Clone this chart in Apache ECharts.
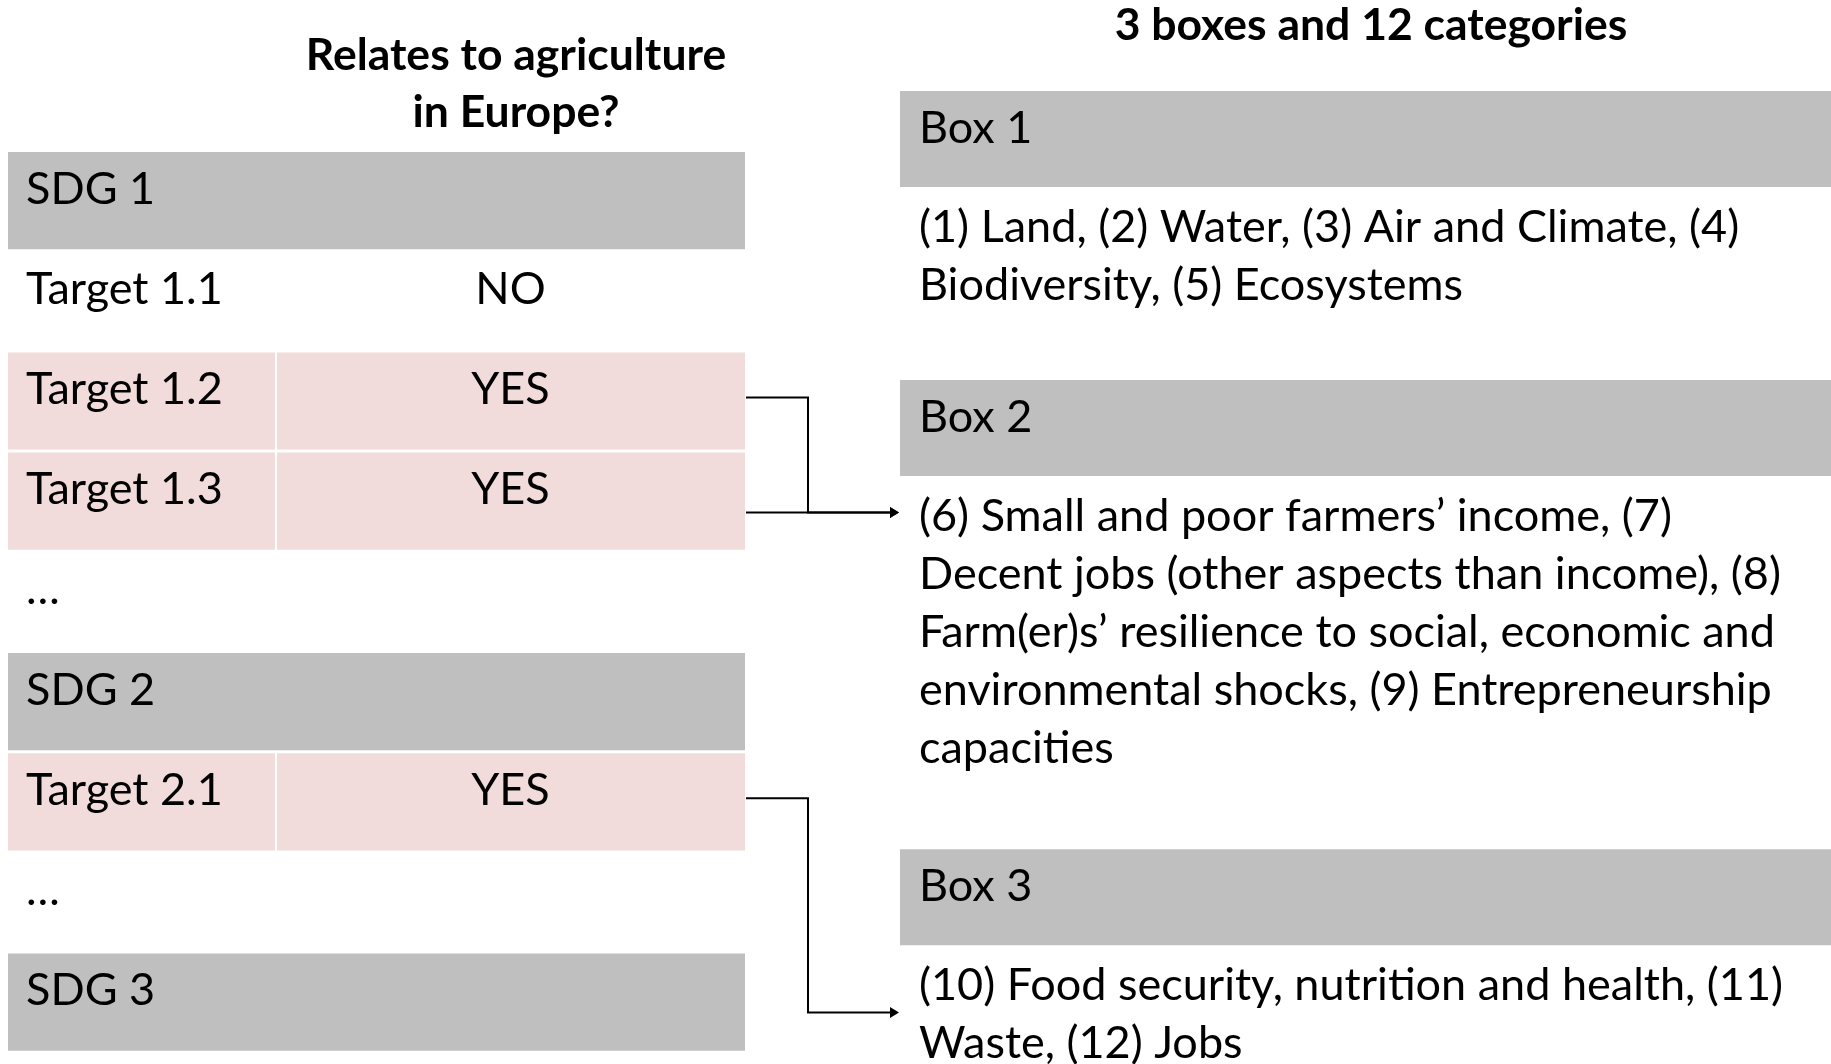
<!DOCTYPE html>
<html><head><meta charset="utf-8">
<script src="https://cdn.jsdelivr.net/npm/echarts@6/dist/echarts.min.js"></script>
<style>html,body{margin:0;padding:0;background:#fff}#c{width:1831px;height:1064px}</style>
</head><body><div id="c"></div>
<script>
// ---------- data ----------
const leftTitle = 'Relates to agriculture\nin Europe?';
const rightTitle = '3 boxes and 12 categories';
const rowLabels = ['SDG 1', 'Target 1.1', 'Target 1.2', 'Target 1.3', '…', 'SDG 2', 'Target 2.1', '…', 'SDG 3'];
const rowKinds = ['goal', 'target', 'target', 'target', 'gap', 'goal', 'target', 'gap', 'goal'];
const rowAnswers = ['', 'NO', 'YES', 'YES', '', '', 'YES', '', ''];
const boxNames = ['Box 1', 'Box 2', 'Box 3'];
const boxLines = [
  ['(1) Land, (2) Water, (3) Air and Climate, (4)', 'Biodiversity, (5) Ecosystems'],
  ['(6) Small and poor farmers’ income, (7)', 'Decent jobs (other aspects than income), (8)', 'Farm(er)s’ resilience to social, economic and', 'environmental shocks, (9) Entrepreneurship', 'capacities'],
  ['(10) Food security, nutrition and health, (11)', 'Waste, (12) Jobs']
];
const linkFrom = ['Target 1.2', 'Target 1.3', 'Target 2.1'];
const linkTo = ['Box 2', 'Box 2', 'Box 3'];
const linkAt = [0.44, 0.44, 0.97]; // arrow height, in text lines below the top of the box text

// ---------- style / layout constants ----------
const FONT = 'Lato';
const FS = 45;
const TFS = 44.5;
const GRAY = '#BFBFBF';
const PINK = '#F2DCDB';
const COL_SPLIT = 0.3636;
const LINE = 58;          // px per text line on the right
const HEAD = 1.655;       // header height in lines
const LSP = 1.0345;       // block spacing per text line
const PAD = 1.26;         // extra space under the text of a box, in lines
const TEXT_TOP = 0.19;    // gap between header and text, in lines
const RIGHT_TOP = 91, RIGHT_H = 1064 - 91;
const ROW_BAND = 100.2;

const boxStart = [];
let acc = 0;
boxLines.forEach((l, i) => { boxStart.push(acc); acc += HEAD + l.length * LSP + PAD; });

const chart = echarts.init(document.getElementById('c'), null, {renderer: 'canvas'});

function renderRow(params, api) {
  const i = params.dataIndex;
  const c = api.coord([0, i]);
  const band = api.size([0, 1])[1];
  const top = c[1] - band / 2;
  const h = band - 3;
  const left = params.coordSys.x, width = params.coordSys.width;
  const split = api.coord([COL_SPLIT, i])[0];
  const kind = rowKinds[i], ans = rowAnswers[i];
  const ch = [];
  if (kind === 'goal') {
    ch.push({type: 'rect', shape: {x: left, y: top, width: width, height: h}, style: {fill: GRAY}});
  } else if (kind === 'target' && ans === 'YES') {
    ch.push({type: 'rect', shape: {x: left, y: top, width: split - left - 1, height: h}, style: {fill: PINK}});
    ch.push({type: 'rect', shape: {x: split + 1, y: top, width: left + width - split - 1, height: h}, style: {fill: PINK}});
  }
  const ty = top + 37;
  ch.push({type: 'text', style: {text: rowLabels[i], x: left + 18, y: ty, fill: '#000', font: FS + 'px ' + FONT, textAlign: 'left', textVerticalAlign: 'middle'}});
  if (ans) {
    ch.push({type: 'text', style: {text: ans, x: (split + left + width) / 2, y: ty, fill: '#000', font: FS + 'px ' + FONT, textAlign: 'center', textVerticalAlign: 'middle'}});
  }
  return {type: 'group', children: ch};
}

function renderBox(params, api) {
  const i = params.dataIndex;
  const s = boxStart[i];
  const p0 = api.coord([0, s]);
  const p1 = api.coord([0, s + HEAD]);
  const pt = api.coord([0, s + HEAD + TEXT_TOP]);
  const left = params.coordSys.x, width = params.coordSys.width;
  return {type: 'group', children: [
    {type: 'rect', shape: {x: left, y: p0[1], width: width, height: p1[1] - p0[1]}, style: {fill: GRAY}},
    {type: 'text', style: {text: boxNames[i], x: left + 19, y: p0[1] + 37, fill: '#000', font: FS + 'px ' + FONT, textAlign: 'left', textVerticalAlign: 'middle'}},
    {type: 'text', style: {text: boxLines[i].join('\n'), x: left + 19, y: pt[1], fill: '#000', font: FS + 'px ' + FONT, lineHeight: LINE, textAlign: 'left', textVerticalAlign: 'top'}}
  ]};
}

chart.setOption({
  animation: false,
  backgroundColor: '#fff',
  title: [
    {text: leftTitle, left: 511, top: 22, textAlign: 'center', textStyle: {fontFamily: FONT, fontWeight: 'bold', fontSize: TFS, lineHeight: 57, color: '#000'}},
    {text: rightTitle, left: 1366, top: 0, textAlign: 'center', textStyle: {fontFamily: FONT, fontWeight: 'bold', fontSize: TFS, lineHeight: 42, color: '#000'}}
  ],
  grid: [
    {left: 8, top: 152, width: 737, height: 9 * ROW_BAND},
    {left: 900, right: 0, top: RIGHT_TOP, height: RIGHT_H}
  ],
  xAxis: [
    {gridIndex: 0, type: 'value', min: 0, max: 1, show: false},
    {gridIndex: 1, type: 'value', min: 0, max: 1, show: false}
  ],
  yAxis: [
    {gridIndex: 0, type: 'category', data: rowLabels, inverse: true, show: false},
    {gridIndex: 1, type: 'value', min: 0, max: RIGHT_H / LINE, inverse: true, show: false}
  ],
  series: [
    {type: 'custom', xAxisIndex: 0, yAxisIndex: 0, renderItem: renderRow, data: rowLabels.map((l, i) => [0, i]), clip: false, silent: true},
    {type: 'custom', xAxisIndex: 1, yAxisIndex: 1, renderItem: renderBox, data: boxNames.map((b, i) => [0, boxStart[i]]), clip: false, silent: true}
  ]
});

// ---------- connector arrows ----------
const graphics = [];
linkFrom.forEach((from, k) => {
  const r = rowLabels.indexOf(from);
  const b = boxNames.indexOf(linkTo[k]);
  const start = chart.convertToPixel({gridIndex: 0}, [1, r]);
  const rowTop = start[1] - ROW_BAND / 2, rowBot = rowTop + ROW_BAND - 3;
  const sy = start[1] - 5;
  const tgt = chart.convertToPixel({gridIndex: 1}, [0, boxStart[b] + HEAD + TEXT_TOP + linkAt[k]]);
  const x0 = start[0] + 1, tipX = tgt[0] - 1, elbowX = x0 + 62;
  let pts;
  if (tgt[1] >= rowTop && tgt[1] <= rowBot) {
    pts = [[x0, tgt[1]], [tipX - 8, tgt[1]]];
  } else {
    pts = [[x0, sy], [elbowX, sy], [elbowX, tgt[1]], [tipX - 8, tgt[1]]];
  }
  graphics.push({type: 'polyline', shape: {points: pts}, style: {stroke: '#000', lineWidth: 2, fill: null}, silent: true});
  graphics.push({type: 'polygon', shape: {points: [[tipX, tgt[1]], [tipX - 9, tgt[1] - 5.5], [tipX - 9, tgt[1] + 5.5]]}, style: {fill: '#000'}, silent: true});
});
chart.setOption({graphic: graphics});
</script>
</body></html>
